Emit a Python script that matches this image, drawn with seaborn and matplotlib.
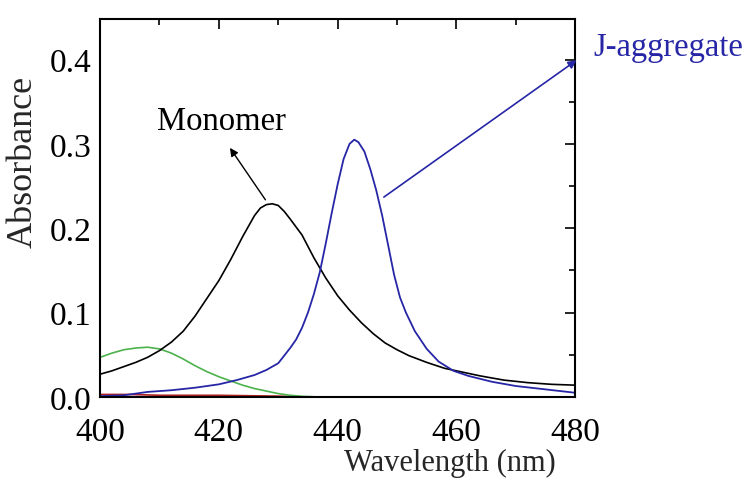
import matplotlib
matplotlib.use("Agg")
import matplotlib.pyplot as plt
import seaborn as sns
from matplotlib.ticker import MultipleLocator

# monomer band (black)
mono_x = [400, 402, 404, 406, 408, 410, 412, 414, 416, 418, 420, 422, 424, 426, 427, 428, 429,
          430, 431, 432, 434, 436, 438, 440, 442, 444, 446, 448, 450, 452, 455, 458, 460, 464,
          468, 472, 476, 480]
mono_y = [0.027, 0.031, 0.036, 0.041, 0.047, 0.055, 0.065, 0.078, 0.096, 0.117, 0.138, 0.163,
          0.190, 0.215, 0.224, 0.228, 0.229, 0.227, 0.220, 0.211, 0.192, 0.165, 0.141, 0.120,
          0.103, 0.088, 0.075, 0.064, 0.056, 0.049, 0.041, 0.034, 0.031, 0.025, 0.020, 0.017,
          0.015, 0.014]

# J-aggregate band (blue)
jagg_x = [400, 404, 408, 412, 416, 420, 423, 426, 428, 430, 432, 433, 434, 435, 436, 437, 438,
          439, 440, 441, 442, 442.8, 443.5, 444.5, 445.5, 446.5, 447.5, 448.5, 449.5, 450.5,
          451.5, 453, 455, 457, 459.5, 462, 466, 470, 475, 480]
jagg_y = [0.001, 0.002, 0.006, 0.008, 0.011, 0.015, 0.020, 0.026, 0.032, 0.040, 0.058, 0.068,
          0.082, 0.100, 0.122, 0.148, 0.182, 0.218, 0.252, 0.282, 0.300, 0.305, 0.302, 0.291,
          0.270, 0.245, 0.215, 0.180, 0.145, 0.118, 0.100, 0.078, 0.057, 0.042, 0.031, 0.025,
          0.018, 0.013, 0.009, 0.005]

# small band (green)
green_x = [400, 402, 404, 406, 408, 410, 412, 414, 416, 418, 420, 422, 424, 426, 428, 430, 432,
           434, 437]
green_y = [0.047, 0.052, 0.056, 0.058, 0.059, 0.057, 0.052, 0.045, 0.037, 0.030, 0.024, 0.019,
           0.014, 0.010, 0.007, 0.004, 0.002, 0.0008, 0.0]

# baseline band (red)
red_x = [400, 405, 410, 415, 420, 425, 430, 434]
red_y = [0.003, 0.003, 0.002, 0.002, 0.002, 0.0015, 0.001, 0.0]

sns.set_style("white")
plt.rcParams["font.family"] = ["Liberation Serif", "DejaVu Serif"]

fig = plt.figure(figsize=(7.47, 4.81), dpi=100)
ax = fig.add_axes([0.134, 0.1726, 0.636, 0.7858])

sns.lineplot(x=red_x, y=red_y, ax=ax, color="#b02020", lw=1.2, estimator=None)
sns.lineplot(x=green_x, y=green_y, ax=ax, color="#4cb24c", lw=1.2, estimator=None)
sns.lineplot(x=mono_x, y=mono_y, ax=ax, color="black", lw=1.2, estimator=None)
sns.lineplot(x=jagg_x, y=jagg_y, ax=ax, color="#2626a6", lw=1.3, estimator=None)

ax.set_xlim(400, 480)
ax.set_ylim(0, 0.448)
ax.xaxis.set_major_locator(MultipleLocator(20))
ax.xaxis.set_minor_locator(MultipleLocator(10))
ax.yaxis.set_major_locator(MultipleLocator(0.1))
ax.yaxis.set_minor_locator(MultipleLocator(0.05))
ax.yaxis.set_major_formatter(plt.FuncFormatter(lambda v, p: f"{v:.1f}"))
ax.tick_params(which="both", direction="in", top=True, right=True, colors="black",
               labelsize=24, width=1.2)
ax.tick_params(which="major", length=7)
ax.tick_params(which="minor", length=4)
ax.tick_params(axis="x", pad=14)
ax.tick_params(axis="y", pad=6)
for s in ax.spines.values():
    s.set_color("black")
    s.set_linewidth(1.5)

ax.set_xlabel("Wavelength (nm)", fontsize=22, va="center")
ax.set_ylabel("Absorbance", fontsize=26)
ax.xaxis.set_label_coords(0.737, -0.172)
ax.yaxis.set_label_coords(-0.128, 0.624)

ax.annotate("", xy=(421.6, 0.298), xytext=(428.1, 0.231),
            arrowprops=dict(arrowstyle="-|>", color="black", lw=1.0, mutation_scale=12))
ax.text(420.4, 0.327, "Monomer", fontsize=23.5, ha="center", va="center", color="black")

ax.annotate("", xy=(480.6, 0.401), xytext=(447.4, 0.235), annotation_clip=False,
            arrowprops=dict(arrowstyle="-|>", color="#2626a6", lw=1.2, mutation_scale=12))
ax.text(483, 0.415, "J-aggregate", fontsize=23.5, ha="left", va="center", color="#2626a6",
        clip_on=False)

fig.savefig("out.png", dpi=100)
